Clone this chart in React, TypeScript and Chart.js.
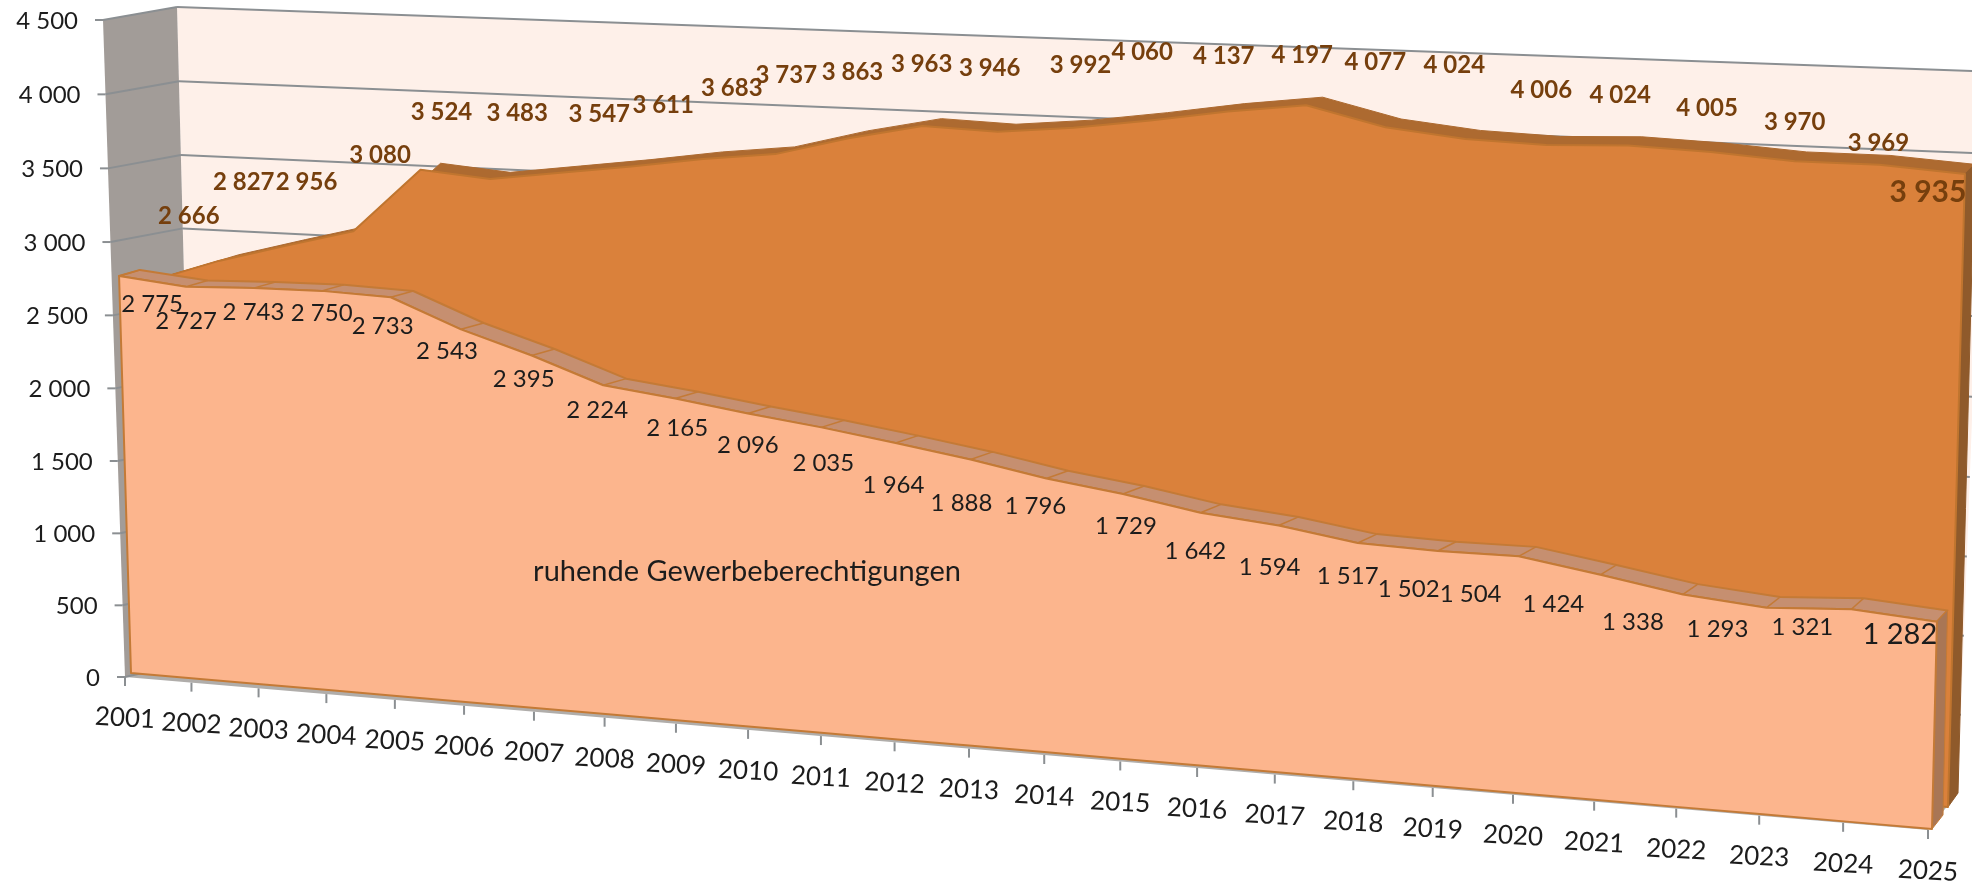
import React, { useEffect, useRef } from "react";
import { Chart, registerables, CategoryScale, LinearScale } from "chart.js";

const years = ["2001","2002","2003","2004","2005","2006","2007","2008","2009","2010","2011","2012","2013","2014","2015","2016","2017","2018","2019","2020","2021","2022","2023","2024","2025"];
const aktive = [2666,2827,2956,3080,3524,3483,3547,3611,3683,3737,3863,3963,3946,3992,4060,4137,4197,4077,4024,4006,4024,4005,3970,3969,3935];
const ruhende = [2775,2727,2743,2750,2733,2543,2395,2224,2165,2096,2035,1964,1888,1796,1729,1642,1594,1517,1502,1504,1424,1338,1293,1321,1282];
const floorLine = years.map(() => 0);
const seriesName = "ruhende Gewerbeberechtigungen";

// hand-placed data labels: offset of each label from its data point
const upperNudge = [[36,-64],[25,-79],[21,-64],[27,-76],[21,-58],[27,-66],[39,-59],[32,-61],[29,-71],[11,-79],[4,-66],[-1,-62],[-8,-64],[7,-63],[-8,-68],[-4,-55],[-4,-50],[-10,-65],[-11,-74],[-5,-55],[-8,-50],[-4,-44],[0,-39],[-1,-22],[-37,18]];
const lowerNudge = [[33,28],[0,35],[0,24],[0,22],[-8,29],[-14,22],[-8,24],[-6,25],[2,30],[0,32],[2,36],[-2,42],[-9,44],[-11,28],[3,32],[-5,39],[-9,42],[-10,33],[-29,38],[-48,38],[-47,29],[-50,28],[-49,22],[-49,18],[-37,13]];

type P = [number, number];
function quad(a: P, b: P, c: P, d: P) {
  const sx = a[0]-b[0]+c[0]-d[0], sy = a[1]-b[1]+c[1]-d[1];
  const dx1 = b[0]-c[0], dx2 = d[0]-c[0], dy1 = b[1]-c[1], dy2 = d[1]-c[1];
  const den = dx1*dy2-dx2*dy1;
  const g = (sx*dy2-dx2*sy)/den, h = (dx1*sy-sx*dy1)/den;
  const A = b[0]-a[0]+g*b[0], B = d[0]-a[0]+h*d[0], C = a[0];
  const D = b[1]-a[1]+g*b[1], E = d[1]-a[1]+h*d[1], F = a[1];
  return (u: number, v: number): P => {
    const w = g*u+h*v+1;
    return [(A*u+B*v+C)/w, (D*u+E*v+F)/w];
  };
}
// The 3D view: each depth layer is a perspective plane over the chart's scales.
// corners: (u,v) = (0,0) (1,0) (1,1) (0,1)
const planes: Record<string, (u:number,v:number)=>P> = {
  axis: quad([125,677],[1928,830],[1946,85],[103,20]),
  peachFront: quad([131,673],[1932,829],[1949.5,90],[111.5,24.4]),
  peachBack: quad([152,667],[1943,815],[1959,86],[132.5,18.4]),
  orangeFront: quad([164,657],[1948,807],[1967.4,81],[145,16]),
  orangeBack: quad([184,651],[1958,793],[1977,72],[165,10]),
  wall: quad([194,661],[1958,793],[1985,71.5],[177,7]),
};
const FONT = "Lato";
const C = { wall:"#FEF0E9", side:"#A29C98", floor:"#B0ADAA", grid:"#8B8F92",
  peach:"#FCB58D", peachBand:"#C68F70", peachSide:"#A97655", peachLine:"#C47A36",
  orange:"#DA813B", orangeBand:"#AD6A30", orangeSide:"#8F5A2B", orangeLine:"#C0752F",
  ink:"#1C1C1C", brown:"#763F0D" };

function uv(chart:any, px:number, py:number){ const a=chart.chartArea; return [(px-a.left)/(a.right-a.left),(a.bottom-py)/(a.bottom-a.top)]; }

class ProjCategory extends (CategoryScale as any) {
  static id = "projCategory";
  static defaults = (CategoryScale as any).defaults;
  _root(i:number){ const [u]=uv(this.chart,this.getPixelForTick(i),0); return planes.axis(u,0); }
  _computeGridLineItems(ca:any){
    return super._computeGridLineItems(ca).map((it:any,i:number)=>{
      const r=this._root(i);
      return {...it,tx1:r[0],ty1:r[1],tx2:r[0],ty2:r[1]+9,x1:r[0],y1:r[1],x2:r[0],y2:r[1]};
    });
  }
  _computeLabelItems(ca:any){
    return super._computeLabelItems(ca).map((it:any,i:number)=>{
      const r=this._root(i);
      return {...it,textOffset:0,options:{...it.options,translation:[r[0],r[1]+41],rotation:3*Math.PI/180,textAlign:"center",textBaseline:"middle"}};
    });
  }
}
class ProjLinear extends (LinearScale as any) {
  static id = "projLinear";
  static defaults = (LinearScale as any).defaults;
  _v(i:number){ return uv(this.chart,0,this.getPixelForTick(i))[1]; }
  _computeGridLineItems(ca:any){
    const out:any[]=[];
    super._computeGridLineItems(ca).forEach((it:any,i:number)=>{
      const v=this._v(i), f=planes.axis(0,v), b=planes.wall(0,v), e=planes.wall(1,v);
      out.push({...it,tx1:f[0]-8,ty1:f[1],tx2:f[0],ty2:f[1],x1:f[0],y1:f[1],x2:b[0],y2:b[1]});
      out.push({...it,tickWidth:0,x1:b[0],y1:b[1],x2:e[0],y2:e[1]});
    });
    return out;
  }
  _computeLabelItems(ca:any){
    return super._computeLabelItems(ca).map((it:any,i:number)=>{
      const f=planes.axis(0,this._v(i));
      return {...it,textOffset:0,options:{...it.options,translation:[f[0]-25,f[1]+1],textAlign:"right",textBaseline:"middle"}};
    });
  }
}
Chart.register(...registerables, ProjCategory as any, ProjLinear as any);

const poly=(ctx:any,pts:P[],fill:string,stroke?:string,lw=2)=>{
  ctx.beginPath(); pts.forEach((p,i)=>i?ctx.lineTo(p[0],p[1]):ctx.moveTo(p[0],p[1])); ctx.closePath();
  ctx.fillStyle=fill; ctx.fill();
  if(stroke){ctx.strokeStyle=stroke;ctx.lineWidth=lw;ctx.lineJoin="round";ctx.stroke();}
};
const fmt=(v:number)=>String(v).replace(/\B(?=(\d{3})+$)/g," ");
const yTop=(chart:any,idx:number,value:number,plane:string):P=>{
  const s=chart.scales; const [u,v]=uv(chart,s.x.getPixelForValue(idx),s.y.getPixelForValue(value)); return planes[plane](u,v);
};

const perspective = {
  id:"perspective",
  afterDatasetsUpdate(chart:any){
    chart.data.datasets.forEach((ds:any,i:number)=>{
      chart.getDatasetMeta(i).data.forEach((pt:any)=>{
        const [u,v]=uv(chart,pt.x,pt.y); const [x,y]=planes[ds.plane](u,v); pt.x=x; pt.y=y;
      });
    });
  },
  beforeDraw(chart:any){
    const ctx=chart.ctx;
    poly(ctx,[planes.wall(0,0),planes.wall(1,0),planes.wall(1,1),planes.wall(0,1)],C.wall);
    poly(ctx,[planes.axis(0,0),planes.axis(1,0),planes.wall(1,0),planes.wall(0,0)],C.floor);
    poly(ctx,[planes.axis(0,0),planes.wall(0,0),planes.wall(0,1),planes.axis(0,1)],C.side);
  },
  beforeDatasetDraw(chart:any,args:any){
    const ds=chart.data.datasets[args.index]; if(ds.fillTo===undefined) return;
    const ctx=chart.ctx; ctx.save();
    const a=args.meta.data, b=chart.getDatasetMeta(ds.fillTo).data;
    const pts:P[]=[...a.map((p:any)=>[p.x,p.y]),...[...b].reverse().map((p:any)=>[p.x,p.y])];
    poly(ctx,pts,ds.backgroundColor,ds.edgeColor,ds.edgeWidth);
    if(ds.ribs){ ctx.strokeStyle=ds.edgeColor; ctx.lineWidth=1.5;
      a.forEach((p:any,i:number)=>{ctx.beginPath();ctx.moveTo(p.x,p.y);ctx.lineTo(b[i].x,b[i].y);ctx.stroke();}); }
    ctx.restore();
  },
  afterDatasetDraw(chart:any,args:any){
    const ds=chart.data.datasets[args.index]; if(!ds.sideOf) return;
    const ctx=chart.ctx, n=years.length-1, d=ds.sideOf;
    ctx.save();
    poly(ctx,[yTop(chart,n,d.values[n],d.front),yTop(chart,n,0,d.front),yTop(chart,n,0,d.back),yTop(chart,n,d.values[n],d.back)],d.color,d.edge,1);
    ctx.restore();
  },
  afterDatasetsDraw(chart:any){
    const ctx=chart.ctx; ctx.save();
    ctx.textAlign="center"; ctx.textBaseline="middle";
    const n=years.length-1;
    const low=chart.getDatasetMeta(0).data, up=chart.getDatasetMeta(3).data;
    ruhende.forEach((v,i)=>{ctx.font=`${i===n?29:24}px ${FONT}`;ctx.fillStyle=C.ink;ctx.fillText(fmt(v),low[i].x+lowerNudge[i][0],low[i].y+lowerNudge[i][1]);});
    aktive.forEach((v,i)=>{ctx.font=`bold ${i===n?30:24}px ${FONT}`;ctx.fillStyle=C.brown;ctx.fillText(fmt(v),up[i].x+upperNudge[i][0],up[i].y+upperNudge[i][1]);});
    ctx.font=`29px ${FONT}`;ctx.fillStyle=C.ink;ctx.fillText(seriesName,747,572);
    ctx.restore();
  },
};

export default function App(){
  const ref=useRef<HTMLCanvasElement>(null);
  useEffect(()=>{
    document.body.style.margin="0";
    const tick={font:{family:FONT,size:24},color:C.ink};
    const line=(data:number[],plane:string,extra:any)=>({data,plane,pointRadius:0,clip:false,fill:false,borderWidth:0,tension:0,...extra});
    const chart=new Chart(ref.current as any,{
      type:"line",
      data:{labels:years,datasets:[
        line(ruhende,"peachFront",{label:seriesName,fillTo:1,backgroundColor:C.peach,edgeColor:C.peachLine,edgeWidth:2}),
        line(floorLine,"peachFront",{}),
        line(ruhende,"peachBack",{fillTo:0,backgroundColor:C.peachBand,edgeColor:C.peachLine,edgeWidth:2,ribs:true,
          sideOf:{values:ruhende,front:"peachFront",back:"peachBack",color:C.peachSide,edge:C.peachLine}}),
        line(aktive,"orangeFront",{label:"aktive Gewerbeberechtigungen",fillTo:4,backgroundColor:C.orange,edgeColor:C.orangeLine,edgeWidth:2}),
        line(floorLine,"orangeFront",{}),
        line(aktive,"orangeBack",{fillTo:3,backgroundColor:C.orangeBand,edgeColor:C.orangeBand,edgeWidth:1,
          sideOf:{values:aktive,front:"orangeFront",back:"orangeBack",color:C.orangeSide,edge:C.orangeSide}}),
      ] as any},
      options:{
        animation:false,responsive:false,maintainAspectRatio:false,events:[],
        layout:{autoPadding:false,padding:{left:0,top:20,right:44,bottom:0}},
        plugins:{legend:{display:false},tooltip:{enabled:false},title:{display:false}},
        scales:{
          x:{type:"projCategory",offset:false,border:{display:false},
            grid:{offset:false,drawOnChartArea:false,drawTicks:true,tickColor:C.grid,tickWidth:2,color:C.grid},
            ticks:{...tick,font:{family:FONT,size:26},autoSkip:false,maxRotation:0,minRotation:0},
            afterFit(s:any){s.height=208;s.paddingLeft=s.paddingRight=s.paddingTop=s.paddingBottom=0;}},
          y:{type:"projLinear",min:0,max:4500,border:{display:false},
            grid:{color:C.grid,lineWidth:2,tickColor:C.grid,tickWidth:2},
            ticks:{...tick,stepSize:500,callback:(v:any)=>fmt(v)},
            afterFit(s:any){s.width=125;s.paddingLeft=s.paddingRight=s.paddingTop=s.paddingBottom=0;}},
        } as any,
      },
      plugins:[perspective],
    } as any);
    return ()=>chart.destroy();
  },[]);
  return <canvas ref={ref} width={1972} height={885} style={{position:"absolute",left:0,top:0,display:"block"}}/>;
}
